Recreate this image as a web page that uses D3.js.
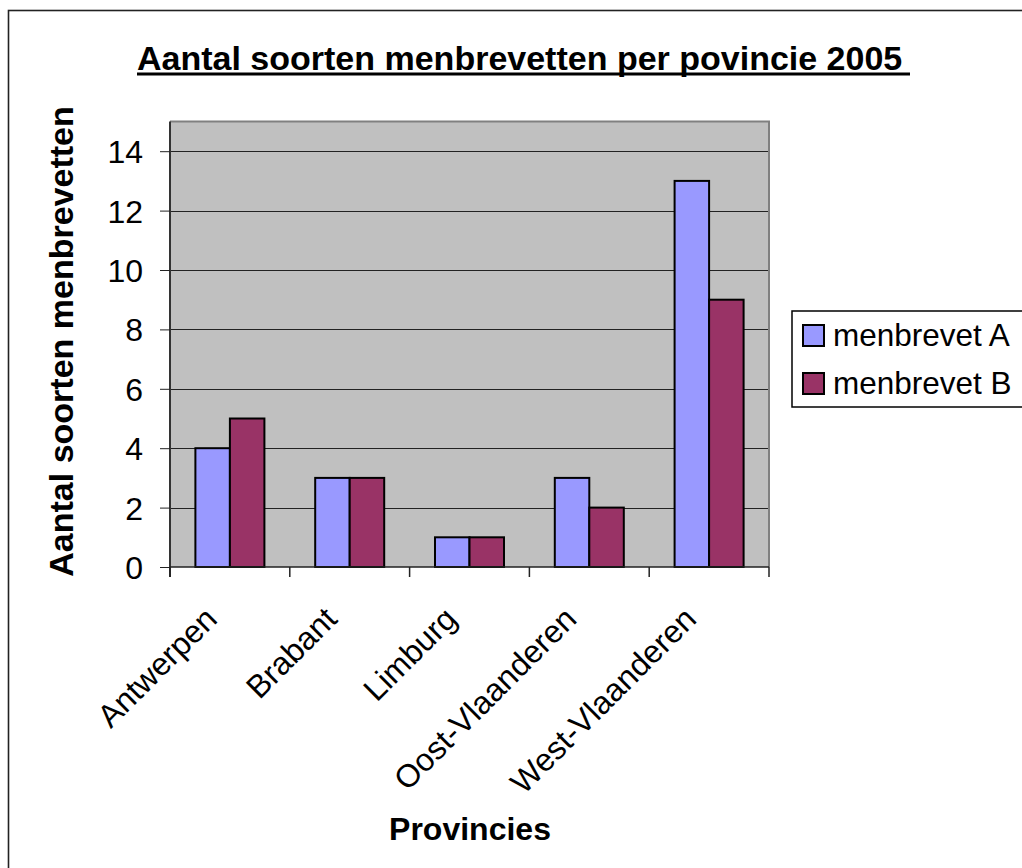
<!DOCTYPE html>
<html><head><meta charset="utf-8">
<script src="https://cdn.jsdelivr.net/npm/d3@7"></script>
<style>html,body{margin:0;padding:0;background:#fff;overflow:hidden}</style>
</head><body>
<svg id="c" width="1022" height="868"></svg>
<script>
const categories = ["Antwerpen","Brabant","Limburg","Oost-Vlaanderen","West-Vlaanderen"];
const seriesNames = ["menbrevet A","menbrevet B"];
const valuesA = [4,3,1,3,13];
const valuesB = [5,3,1,2,9];
const yTicks = [0,2,4,6,8,10,12,14];
const titleText = "Aantal soorten menbrevetten per povincie 2005";
const yTitle = "Aantal soorten menbrevetten";
const xTitle = "Provincies";
const colors = ["#9999FF","#993366"];
const FONT = "'Liberation Sans', Arial, sans-serif";

const svg = d3.select("#c");
const L = 170, R = 769, T = 121.5, B = 567;

svg.append("rect").attr("x",8.5).attr("y",10.5).attr("width",1040).attr("height",900)
  .attr("fill","#fff").attr("stroke","#222").attr("stroke-width",1.6);

const x = d3.scaleBand().domain(categories).range([L,R]).padding(0);
const step = x.bandwidth();
const xs = d3.scaleBand().domain(seriesNames).range([step*0.212, step*0.788]).padding(0);
const y = d3.scaleLinear().domain([0,15]).range([B,T]);

// plot area
svg.append("rect").attr("x",L).attr("y",T).attr("width",R-L).attr("height",B-T).attr("fill","#C0C0C0");
svg.append("g").selectAll("line").data(yTicks.filter(d=>d>0)).join("line")
  .attr("x1",L).attr("x2",R).attr("y1",d=>Math.round(y(d))+0.5).attr("y2",d=>Math.round(y(d))+0.5)
  .attr("stroke","#222").attr("stroke-width",1);
svg.append("path").attr("d",`M${L},${T} H${R} V${B}`).attr("fill","none").attr("stroke","#808080").attr("stroke-width",2);

// bars
const data = categories.map((c,i)=>({c, vals:[valuesA[i],valuesB[i]]}));
const g = svg.append("g").selectAll("g").data(data).join("g").attr("transform",d=>`translate(${x(d.c)},0)`);
g.selectAll("rect").data(d=>d.vals.map((v,j)=>({s:seriesNames[j],v,j}))).join("rect")
  .attr("x",d=>xs(d.s)).attr("width",xs.bandwidth())
  .attr("y",d=>y(d.v)).attr("height",d=>B-y(d.v))
  .attr("fill",d=>colors[d.j]).attr("stroke","#000").attr("stroke-width",2);

// y axis
const yAxis = d3.axisLeft(y).tickValues(yTicks).tickSize(10).tickPadding(17).tickFormat(d3.format("d"));
const ya = svg.append("g").attr("transform",`translate(${L},0)`).call(yAxis);
ya.select(".domain").attr("stroke","#333").attr("stroke-width",2).attr("d",`M0,${T}V${B+10}`);
ya.selectAll(".tick line").attr("stroke","#222");
ya.selectAll("text").attr("font-family",FONT).attr("font-size",32).attr("fill","#000").attr("dy","0.36em");

// x axis
const xa = svg.append("g").attr("transform",`translate(0,${B})`);
xa.append("line").attr("x1",L).attr("x2",R).attr("y1",0).attr("y2",0).attr("stroke","#222").attr("stroke-width",1.5);
const bounds = categories.map(c=>x(c)).concat([x(categories[categories.length-1])+step]);
xa.selectAll("line.t").data(bounds).join("line").attr("class","t")
  .attr("x1",d=>d).attr("x2",d=>d).attr("y1",0).attr("y2",10).attr("stroke","#222").attr("stroke-width",1.5);
xa.selectAll("text").data(categories).join("text")
  .attr("transform",d=>`translate(${x(d)+step/2-11},${54}) rotate(-45)`)
  .attr("text-anchor","end").attr("font-family",FONT).attr("font-size",32).text(d=>d);

// titles
svg.append("text").attr("x",137).attr("y",70)
  .attr("font-family",FONT).attr("font-weight","bold").attr("font-size",34).text(titleText);
svg.append("line").attr("x1",137).attr("x2",910).attr("y1",74).attr("y2",74).attr("stroke","#000").attr("stroke-width",3);
svg.append("text").attr("transform",`translate(73,${(578+105)/2}) rotate(-90)`).attr("text-anchor","middle")
  .attr("font-family",FONT).attr("font-weight","bold").attr("font-size",34).text(yTitle);
svg.append("text").attr("x",470).attr("y",840).attr("text-anchor","middle")
  .attr("font-family",FONT).attr("font-weight","bold").attr("font-size",32).text(xTitle);

// legend
const lg = svg.append("g");
lg.append("rect").attr("x",792).attr("y",311).attr("width",300).attr("height",96).attr("fill","#fff").attr("stroke","#000").attr("stroke-width",1.5);
const li = lg.selectAll("g").data(seriesNames).join("g").attr("transform",(d,i)=>`translate(803,${325+i*48})`);
li.append("rect").attr("width",21).attr("height",21).attr("fill",(d,i)=>colors[i]).attr("stroke","#000").attr("stroke-width",2);
li.append("text").attr("x",30).attr("y",21).attr("font-family",FONT).attr("font-size",31.5).text(d=>d);
</script>
</body></html>
